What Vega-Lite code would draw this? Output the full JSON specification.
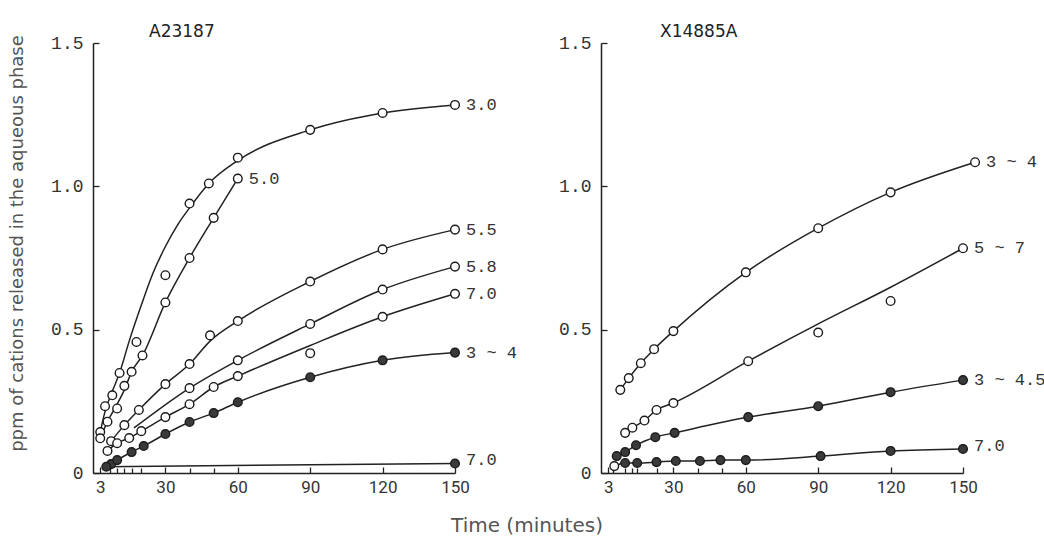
{
  "$schema": "https://vega.github.io/schema/vega-lite/v6.json",
  "padding": {"left": 8, "top": 23, "right": 5, "bottom": 5},
  "background": "white",
  "config": {
    "view": {"stroke": null},
    "axis": {"grid": false, "domainColor": "#222", "domainWidth": 1.5, "tickColor": "#222", "tickWidth": 1.3, "tickSize": -6, "labelColor": "#333", "labelFlush": false, "labelOverlap": false}
  },
  "title": {"text": "Time (minutes)", "orient": "bottom", "anchor": "middle", "font": "DejaVu Sans", "fontSize": 20, "fontWeight": "normal", "color": "#555", "offset": 21},
  "datasets": {
    "obs": [
      {"p": "A23187", "s": "3.0", "f": "open", "t": 3, "v": 0.143, "r": "both"},
      {"p": "A23187", "s": "3.0", "f": "open", "t": 5, "v": 0.233, "r": "point"},
      {"p": "A23187", "s": "3.0", "f": "open", "t": 5, "v": 0.215, "r": "curve"},
      {"p": "A23187", "s": "3.0", "f": "open", "t": 8, "v": 0.271, "r": "point"},
      {"p": "A23187", "s": "3.0", "f": "open", "t": 8, "v": 0.285, "r": "curve"},
      {"p": "A23187", "s": "3.0", "f": "open", "t": 11, "v": 0.349, "r": "both"},
      {"p": "A23187", "s": "3.0", "f": "open", "t": 15, "v": 0.46, "r": "curve"},
      {"p": "A23187", "s": "3.0", "f": "open", "t": 18, "v": 0.457, "r": "point"},
      {"p": "A23187", "s": "3.0", "f": "open", "t": 20, "v": 0.585, "r": "curve"},
      {"p": "A23187", "s": "3.0", "f": "open", "t": 25, "v": 0.70, "r": "curve"},
      {"p": "A23187", "s": "3.0", "f": "open", "t": 30, "v": 0.69, "r": "point"},
      {"p": "A23187", "s": "3.0", "f": "open", "t": 30, "v": 0.79, "r": "curve"},
      {"p": "A23187", "s": "3.0", "f": "open", "t": 35, "v": 0.865, "r": "curve"},
      {"p": "A23187", "s": "3.0", "f": "open", "t": 40, "v": 0.94, "r": "point"},
      {"p": "A23187", "s": "3.0", "f": "open", "t": 40, "v": 0.925, "r": "curve"},
      {"p": "A23187", "s": "3.0", "f": "open", "t": 48, "v": 1.01, "r": "both"},
      {"p": "A23187", "s": "3.0", "f": "open", "t": 60, "v": 1.10, "r": "point"},
      {"p": "A23187", "s": "3.0", "f": "open", "t": 60, "v": 1.09, "r": "curve"},
      {"p": "A23187", "s": "3.0", "f": "open", "t": 90, "v": 1.197, "r": "both"},
      {"p": "A23187", "s": "3.0", "f": "open", "t": 120, "v": 1.256, "r": "both"},
      {"p": "A23187", "s": "3.0", "f": "open", "t": 150, "v": 1.284, "r": "both"},

      {"p": "A23187", "s": "5.0", "f": "open", "t": 3, "v": 0.121, "r": "both"},
      {"p": "A23187", "s": "5.0", "f": "open", "t": 6, "v": 0.179, "r": "both"},
      {"p": "A23187", "s": "5.0", "f": "open", "t": 10, "v": 0.225, "r": "point"},
      {"p": "A23187", "s": "5.0", "f": "open", "t": 10, "v": 0.24, "r": "curve"},
      {"p": "A23187", "s": "5.0", "f": "open", "t": 13, "v": 0.304, "r": "point"},
      {"p": "A23187", "s": "5.0", "f": "open", "t": 13, "v": 0.29, "r": "curve"},
      {"p": "A23187", "s": "5.0", "f": "open", "t": 16, "v": 0.353, "r": "both"},
      {"p": "A23187", "s": "5.0", "f": "open", "t": 20.5, "v": 0.41, "r": "both"},
      {"p": "A23187", "s": "5.0", "f": "open", "t": 30, "v": 0.595, "r": "both"},
      {"p": "A23187", "s": "5.0", "f": "open", "t": 40, "v": 0.75, "r": "both"},
      {"p": "A23187", "s": "5.0", "f": "open", "t": 50, "v": 0.89, "r": "both"},
      {"p": "A23187", "s": "5.0", "f": "open", "t": 60, "v": 1.027, "r": "both"},

      {"p": "A23187", "s": "5.5", "f": "open", "t": 7.5, "v": 0.111, "r": "both"},
      {"p": "A23187", "s": "5.5", "f": "open", "t": 13, "v": 0.167, "r": "both"},
      {"p": "A23187", "s": "5.5", "f": "open", "t": 19, "v": 0.22, "r": "both"},
      {"p": "A23187", "s": "5.5", "f": "open", "t": 30, "v": 0.31, "r": "both"},
      {"p": "A23187", "s": "5.5", "f": "open", "t": 40, "v": 0.38, "r": "both"},
      {"p": "A23187", "s": "5.5", "f": "open", "t": 48.5, "v": 0.48, "r": "point"},
      {"p": "A23187", "s": "5.5", "f": "open", "t": 48.5, "v": 0.46, "r": "curve"},
      {"p": "A23187", "s": "5.5", "f": "open", "t": 60, "v": 0.53, "r": "both"},
      {"p": "A23187", "s": "5.5", "f": "open", "t": 90, "v": 0.668, "r": "both"},
      {"p": "A23187", "s": "5.5", "f": "open", "t": 120, "v": 0.78, "r": "both"},
      {"p": "A23187", "s": "5.5", "f": "open", "t": 150, "v": 0.849, "r": "both"},

      {"p": "A23187", "s": "5.8", "f": "open", "t": 17, "v": 0.157, "r": "curve"},
      {"p": "A23187", "s": "5.8", "f": "open", "t": 40, "v": 0.296, "r": "both"},
      {"p": "A23187", "s": "5.8", "f": "open", "t": 60, "v": 0.393, "r": "both"},
      {"p": "A23187", "s": "5.8", "f": "open", "t": 90, "v": 0.52, "r": "both"},
      {"p": "A23187", "s": "5.8", "f": "open", "t": 120, "v": 0.64, "r": "both"},
      {"p": "A23187", "s": "5.8", "f": "open", "t": 150, "v": 0.72, "r": "both"},

      {"p": "A23187", "s": "7.0o", "f": "open", "t": 6, "v": 0.077, "r": "both"},
      {"p": "A23187", "s": "7.0o", "f": "open", "t": 10, "v": 0.104, "r": "both"},
      {"p": "A23187", "s": "7.0o", "f": "open", "t": 15, "v": 0.122, "r": "both"},
      {"p": "A23187", "s": "7.0o", "f": "open", "t": 20, "v": 0.146, "r": "both"},
      {"p": "A23187", "s": "7.0o", "f": "open", "t": 30, "v": 0.195, "r": "both"},
      {"p": "A23187", "s": "7.0o", "f": "open", "t": 40, "v": 0.24, "r": "both"},
      {"p": "A23187", "s": "7.0o", "f": "open", "t": 50, "v": 0.30, "r": "both"},
      {"p": "A23187", "s": "7.0o", "f": "open", "t": 60, "v": 0.338, "r": "both"},
      {"p": "A23187", "s": "7.0o", "f": "open", "t": 90, "v": 0.418, "r": "point"},
      {"p": "A23187", "s": "7.0o", "f": "open", "t": 90, "v": 0.445, "r": "curve"},
      {"p": "A23187", "s": "7.0o", "f": "open", "t": 120, "v": 0.545, "r": "both"},
      {"p": "A23187", "s": "7.0o", "f": "open", "t": 150, "v": 0.625, "r": "both"},

      {"p": "A23187", "s": "3~4", "f": "filled", "t": 7.5, "v": 0.031, "r": "both"},
      {"p": "A23187", "s": "3~4", "f": "filled", "t": 10, "v": 0.045, "r": "both"},
      {"p": "A23187", "s": "3~4", "f": "filled", "t": 16, "v": 0.073, "r": "both"},
      {"p": "A23187", "s": "3~4", "f": "filled", "t": 21, "v": 0.094, "r": "both"},
      {"p": "A23187", "s": "3~4", "f": "filled", "t": 30, "v": 0.136, "r": "both"},
      {"p": "A23187", "s": "3~4", "f": "filled", "t": 40, "v": 0.178, "r": "both"},
      {"p": "A23187", "s": "3~4", "f": "filled", "t": 50, "v": 0.209, "r": "both"},
      {"p": "A23187", "s": "3~4", "f": "filled", "t": 60, "v": 0.247, "r": "both"},
      {"p": "A23187", "s": "3~4", "f": "filled", "t": 90, "v": 0.334, "r": "both"},
      {"p": "A23187", "s": "3~4", "f": "filled", "t": 120, "v": 0.393, "r": "both"},
      {"p": "A23187", "s": "3~4", "f": "filled", "t": 150, "v": 0.42, "r": "both"},

      {"p": "A23187", "s": "7.0f", "f": "filled", "t": 5.5, "v": 0.022, "r": "both"},
      {"p": "A23187", "s": "7.0f", "f": "filled", "t": 150, "v": 0.033, "r": "both"},

      {"p": "X14885A", "s": "3~4", "f": "open", "t": 8, "v": 0.29, "r": "both"},
      {"p": "X14885A", "s": "3~4", "f": "open", "t": 11.5, "v": 0.331, "r": "both"},
      {"p": "X14885A", "s": "3~4", "f": "open", "t": 16.5, "v": 0.383, "r": "both"},
      {"p": "X14885A", "s": "3~4", "f": "open", "t": 22, "v": 0.432, "r": "both"},
      {"p": "X14885A", "s": "3~4", "f": "open", "t": 30, "v": 0.495, "r": "both"},
      {"p": "X14885A", "s": "3~4", "f": "open", "t": 60, "v": 0.70, "r": "both"},
      {"p": "X14885A", "s": "3~4", "f": "open", "t": 90, "v": 0.854, "r": "both"},
      {"p": "X14885A", "s": "3~4", "f": "open", "t": 120, "v": 0.979, "r": "both"},
      {"p": "X14885A", "s": "3~4", "f": "open", "t": 155, "v": 1.084, "r": "both"},

      {"p": "X14885A", "s": "5~7", "f": "open", "t": 10, "v": 0.14, "r": "both"},
      {"p": "X14885A", "s": "5~7", "f": "open", "t": 13, "v": 0.158, "r": "both"},
      {"p": "X14885A", "s": "5~7", "f": "open", "t": 18, "v": 0.183, "r": "both"},
      {"p": "X14885A", "s": "5~7", "f": "open", "t": 23, "v": 0.22, "r": "both"},
      {"p": "X14885A", "s": "5~7", "f": "open", "t": 30, "v": 0.244, "r": "both"},
      {"p": "X14885A", "s": "5~7", "f": "open", "t": 61, "v": 0.39, "r": "both"},
      {"p": "X14885A", "s": "5~7", "f": "open", "t": 90, "v": 0.49, "r": "point"},
      {"p": "X14885A", "s": "5~7", "f": "open", "t": 90, "v": 0.52, "r": "curve"},
      {"p": "X14885A", "s": "5~7", "f": "open", "t": 120, "v": 0.60, "r": "point"},
      {"p": "X14885A", "s": "5~7", "f": "open", "t": 120, "v": 0.648, "r": "curve"},
      {"p": "X14885A", "s": "5~7", "f": "open", "t": 150, "v": 0.784, "r": "both"},

      {"p": "X14885A", "s": "3~4.5", "f": "filled", "t": 6.5, "v": 0.059, "r": "both"},
      {"p": "X14885A", "s": "3~4.5", "f": "filled", "t": 10, "v": 0.073, "r": "both"},
      {"p": "X14885A", "s": "3~4.5", "f": "filled", "t": 14.5, "v": 0.097, "r": "both"},
      {"p": "X14885A", "s": "3~4.5", "f": "filled", "t": 22.5, "v": 0.125, "r": "both"},
      {"p": "X14885A", "s": "3~4.5", "f": "filled", "t": 30.5, "v": 0.14, "r": "both"},
      {"p": "X14885A", "s": "3~4.5", "f": "filled", "t": 61, "v": 0.195, "r": "both"},
      {"p": "X14885A", "s": "3~4.5", "f": "filled", "t": 90, "v": 0.233, "r": "both"},
      {"p": "X14885A", "s": "3~4.5", "f": "filled", "t": 120, "v": 0.282, "r": "both"},
      {"p": "X14885A", "s": "3~4.5", "f": "filled", "t": 150, "v": 0.324, "r": "both"},

      {"p": "X14885A", "s": "7.0", "f": "open", "t": 5.5, "v": 0.024, "r": "both"},
      {"p": "X14885A", "s": "7.0", "f": "filled", "t": 10, "v": 0.035, "r": "both"},
      {"p": "X14885A", "s": "7.0", "f": "filled", "t": 15, "v": 0.035, "r": "both"},
      {"p": "X14885A", "s": "7.0", "f": "filled", "t": 23, "v": 0.038, "r": "both"},
      {"p": "X14885A", "s": "7.0", "f": "filled", "t": 31, "v": 0.042, "r": "both"},
      {"p": "X14885A", "s": "7.0", "f": "filled", "t": 41, "v": 0.042, "r": "both"},
      {"p": "X14885A", "s": "7.0", "f": "filled", "t": 49.5, "v": 0.045, "r": "both"},
      {"p": "X14885A", "s": "7.0", "f": "filled", "t": 60, "v": 0.045, "r": "both"},
      {"p": "X14885A", "s": "7.0", "f": "filled", "t": 91, "v": 0.059, "r": "both"},
      {"p": "X14885A", "s": "7.0", "f": "filled", "t": 120, "v": 0.077, "r": "both"},
      {"p": "X14885A", "s": "7.0", "f": "filled", "t": 150, "v": 0.084, "r": "both"}
    ],
    "lab": [
      {"p": "A23187", "label": "3.0", "t": 150, "v": 1.284},
      {"p": "A23187", "label": "5.0", "t": 60, "v": 1.027},
      {"p": "A23187", "label": "5.5", "t": 150, "v": 0.849},
      {"p": "A23187", "label": "5.8", "t": 150, "v": 0.72},
      {"p": "A23187", "label": "7.0", "t": 150, "v": 0.625},
      {"p": "A23187", "label": "3 ~ 4", "t": 150, "v": 0.42},
      {"p": "A23187", "label": "7.0", "t": 150, "v": 0.045},
      {"p": "X14885A", "label": "3 ~ 4", "t": 155, "v": 1.084},
      {"p": "X14885A", "label": "5 ~ 7", "t": 150, "v": 0.784},
      {"p": "X14885A", "label": "3 ~ 4.5", "t": 150, "v": 0.324},
      {"p": "X14885A", "label": "7.0", "t": 150, "v": 0.095}
    ]
  },
  "bounds": "flush",
  "spacing": 146,
  "hconcat": [
    {
      "width": 362,
      "height": 430,
      "title": {"text": "A23187", "anchor": "start", "frame": "group", "dx": 56, "offset": -7, "font": "DejaVu Sans", "fontSize": 17, "fontWeight": "normal", "color": "#222"},
      "resolve": {"axis": {"x": "independent"}},
      "layer": [
        {
          "data": {"name": "obs"},
          "transform": [{"filter": "datum.p == 'A23187' && datum.r != 'point'"}],
          "mark": {"type": "line", "interpolate": "monotone", "color": "#222", "strokeWidth": 1.5},
          "encoding": {
            "x": {"field": "t", "type": "quantitative", "scale": {"domain": [0, 150], "nice": false, "zero": false},
              "axis": {"orient": "bottom", "title": null, "values": [3, 30, 60, 90, 120, 150], "labelFont": "Roboto", "labelFontSize": 17, "labelPadding": 12}},
            "y": {"field": "v", "type": "quantitative", "scale": {"domain": [0, 1.5], "nice": false},
              "axis": {"title": "ppm of cations released in the aqueous phase", "values": [0, 0.5, 1, 1.5], "labelExpr": "datum.value == 0 ? '0' : format(datum.value, '.1f')", "labelFont": "Liberation Mono", "labelFontSize": 18, "labelPadding": 16, "titleFont": "DejaVu Sans", "titleFontSize": 18, "titleFontWeight": "normal", "titleColor": "#555", "titlePadding": 24, "titleY": 200}},
            "detail": {"field": "s"}
          }
        },
        {
          "data": {"name": "obs"},
          "transform": [{"filter": "datum.p == 'A23187' && datum.r != 'curve'"}],
          "mark": {"type": "point", "shape": "circle", "filled": true, "size": 75, "stroke": "#1a1a1a", "strokeWidth": 1.4, "opacity": 1},
          "encoding": {
            "x": {"field": "t", "type": "quantitative",
              "axis": {"orient": "bottom", "title": null, "values": [7, 10, 13, 16, 20, 40, 50], "labels": false, "domain": false, "tickSize": -5}},
            "y": {"field": "v", "type": "quantitative"},
            "fill": {"field": "f", "type": "nominal", "scale": {"domain": ["open", "filled"], "range": ["#ffffff", "#3a3a3a"]}, "legend": null}
          }
        },
        {
          "data": {"name": "lab"},
          "transform": [{"filter": "datum.p == 'A23187'"}],
          "mark": {"type": "text", "align": "left", "baseline": "middle", "dx": 11, "font": "Liberation Mono", "fontSize": 17, "color": "#333"},
          "encoding": {
            "x": {"field": "t", "type": "quantitative", "axis": null},
            "y": {"field": "v", "type": "quantitative"},
            "text": {"field": "label"}
          }
        }
      ]
    },
    {
      "width": 362,
      "height": 430,
      "title": {"text": "X14885A", "anchor": "start", "frame": "group", "dx": 59, "offset": -7, "font": "DejaVu Sans", "fontSize": 17, "fontWeight": "normal", "color": "#222"},
      "resolve": {"axis": {"x": "independent"}},
      "layer": [
        {
          "data": {"name": "obs"},
          "transform": [{"filter": "datum.p == 'X14885A' && datum.r != 'point'"}],
          "mark": {"type": "line", "interpolate": "monotone", "color": "#222", "strokeWidth": 1.5},
          "encoding": {
            "x": {"field": "t", "type": "quantitative", "scale": {"domain": [0, 150], "nice": false, "zero": false},
              "axis": {"orient": "bottom", "title": null, "values": [3, 30, 60, 90, 120, 150], "labelFont": "Roboto", "labelFontSize": 17, "labelPadding": 12}},
            "y": {"field": "v", "type": "quantitative", "scale": {"domain": [0, 1.5], "nice": false},
              "axis": {"title": null, "values": [0, 0.5, 1, 1.5], "labelExpr": "datum.value == 0 ? '0' : format(datum.value, '.1f')", "labelFont": "Liberation Mono", "labelFontSize": 18, "labelPadding": 16}},
            "detail": {"field": "s"}
          }
        },
        {
          "data": {"name": "obs"},
          "transform": [{"filter": "datum.p == 'X14885A' && datum.r != 'curve'"}],
          "mark": {"type": "point", "shape": "circle", "filled": true, "size": 75, "stroke": "#1a1a1a", "strokeWidth": 1.4, "opacity": 1},
          "encoding": {
            "x": {"field": "t", "type": "quantitative",
              "axis": {"orient": "bottom", "title": null, "values": [5, 10, 13, 15, 23, 40, 50], "labels": false, "domain": false, "tickSize": -5}},
            "y": {"field": "v", "type": "quantitative"},
            "fill": {"field": "f", "type": "nominal", "scale": {"domain": ["open", "filled"], "range": ["#ffffff", "#3a3a3a"]}, "legend": null}
          }
        },
        {
          "data": {"name": "lab"},
          "transform": [{"filter": "datum.p == 'X14885A'"}],
          "mark": {"type": "text", "align": "left", "baseline": "middle", "dx": 11, "font": "Liberation Mono", "fontSize": 17, "color": "#333"},
          "encoding": {
            "x": {"field": "t", "type": "quantitative", "axis": null},
            "y": {"field": "v", "type": "quantitative"},
            "text": {"field": "label"}
          }
        }
      ]
    }
  ]
}
